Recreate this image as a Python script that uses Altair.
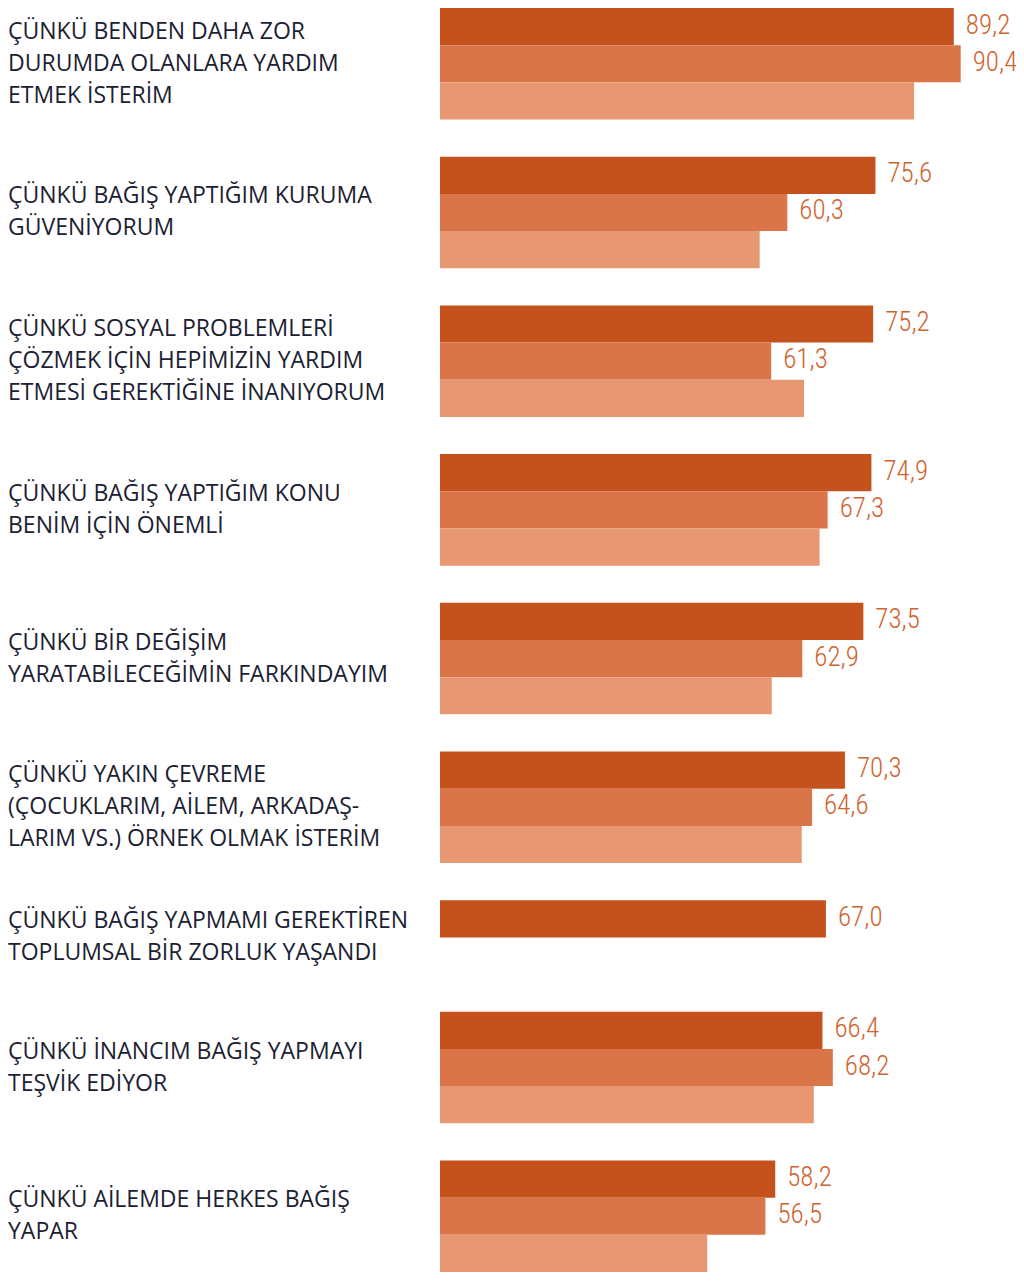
import altair as alt
import pandas as pd

categories = [
    "ÇÜNKÜ BENDEN DAHA ZOR\nDURUMDA OLANLARA YARDIM\nETMEK İSTERİM",
    "ÇÜNKÜ BAĞIŞ YAPTIĞIM KURUMA\nGÜVENİYORUM",
    "ÇÜNKÜ SOSYAL PROBLEMLERİ\nÇÖZMEK İÇİN HEPİMİZİN YARDIM\nETMESİ GEREKTİĞİNE İNANIYORUM",
    "ÇÜNKÜ BAĞIŞ YAPTIĞIM KONU\nBENİM İÇİN ÖNEMLİ",
    "ÇÜNKÜ BİR DEĞİŞİM\nYARATABİLECEĞİMİN FARKINDAYIM",
    "ÇÜNKÜ YAKIN ÇEVREME\n(ÇOCUKLARIM, AİLEM, ARKADAŞ-\nLARIM VS.) ÖRNEK OLMAK İSTERİM",
    "ÇÜNKÜ BAĞIŞ YAPMAMI GEREKTİREN\nTOPLUMSAL BİR ZORLUK YAŞANDI",
    "ÇÜNKÜ İNANCIM BAĞIŞ YAPMAYI\nTEŞVİK EDİYOR",
    "ÇÜNKÜ AİLEMDE HERKES BAĞIŞ\nYAPAR",
]

series_names = ["s1", "s2", "s3"]
series_colors = ["#C5511C", "#DA754A", "#E89773"]

dark = [89.2, 75.6, 75.2, 74.9, 73.5, 70.3, 67.0, 66.4, 58.2]
dark_labels = ["89,2", "75,6", "75,2", "74,9", "73,5", "70,3", "67,0", "66,4", "58,2"]
medium = [90.4, 60.3, 57.5, 67.3, 62.9, 64.6, None, 68.2, 56.5]
medium_labels = ["90,4", "60,3", "61,3", "67,3", "62,9", "64,6", None, "68,2", "56,5"]
light = [82.3, 55.5, 63.2, 65.9, 57.6, 62.8, None, 64.9, 46.4]

series_values = [dark, medium, light]
series_labels = [dark_labels, medium_labels, [None] * len(categories)]

bar_rows = []
cat_rows = []
pos = 0
for i, cat in enumerate(categories):
    vals = [s[i] for s in series_values]
    count = sum(v is not None for v in vals)
    nslots = max(count, 2)
    for j, name in enumerate(series_names):
        v = vals[j]
        if v is None:
            continue
        bar_rows.append({
            "series": name,
            "value": v,
            "label": series_labels[j][i],
            "start": pos + j,
            "end": pos + j + 1,
            "mid": pos + j + 0.5,
        })
    cat_rows.append({"cat": cat, "center": pos + nslots / 2,
                     "nlines": cat.count("\n") + 1})
    pos += nslots + 1
total = pos - 1

bars_df = pd.DataFrame(bar_rows)
cats_df = pd.DataFrame(cat_rows)

yscale = alt.Scale(domain=[0, total], reverse=True, nice=False, zero=False)
xscale = alt.Scale(domain=[0, 100], nice=False)

bars = alt.Chart(bars_df).mark_rect().encode(
    x=alt.X("value:Q", scale=xscale, axis=None),
    x2=alt.datum(0),
    y=alt.Y("start:Q", scale=yscale, axis=None),
    y2="end:Q",
    color=alt.Color("series:N", scale=alt.Scale(domain=series_names, range=series_colors), legend=None),
)

vlabels = alt.Chart(bars_df).transform_filter("datum.label != null").mark_text(
    align="left", baseline="middle", dx=12, dy=-1,
    font="Roboto Condensed, Liberation Sans Narrow, Noto Sans Condensed, DejaVu Sans Condensed, sans-serif",
    fontSize=27, fontWeight=300, color="#CF6430",
).encode(
    x=alt.X("value:Q", scale=xscale, axis=None),
    y=alt.Y("mid:Q", scale=yscale, axis=None),
    text="label:N",
)

LINE_H = 32


def cat_layer(n):
    return alt.Chart(cats_df).transform_filter(f"datum.nlines == {n}").mark_text(
        align="left", baseline="middle", lineBreak="\n", lineHeight=LINE_H,
        dy=-(n - 1) * LINE_H / 2,
        font="Open Sans", fontSize=23, fontWeight=500, color="#1B2132",
    ).encode(
        x=alt.value(-432),
        y=alt.Y("center:Q", scale=yscale, axis=None),
        text="cat:N",
    )


chart = alt.layer(bars, vlabels, cat_layer(2), cat_layer(3)).properties(
    width=576, height=1264,
    padding={"left": 432, "top": 0, "right": 0, "bottom": 0},
    autosize=alt.AutoSizeParams(type="none"),
).configure_view(stroke=None)

chart.save("out.html", embed_options={"renderer": "svg", "actions": False})
